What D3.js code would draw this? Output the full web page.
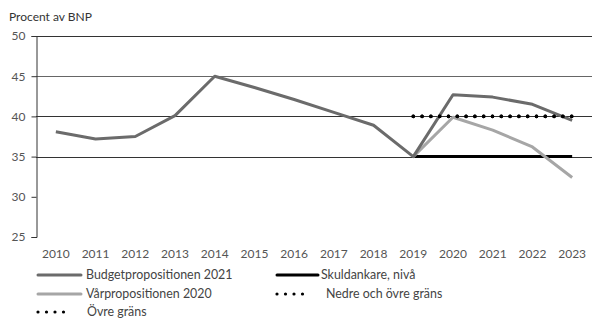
<!DOCTYPE html>
<html>
<head>
<meta charset="utf-8">
<script src="https://cdn.jsdelivr.net/npm/d3@7"></script>
<style>
  body { margin:0; background:#fff; }
  svg { display:block; font-family: Lato, "Open Sans", sans-serif; }
</style>
</head>
<body>
<div id="chart"></div>
<script>
// Data (percent of GDP)
const years = [2010,2011,2012,2013,2014,2015,2016,2017,2018,2019,2020,2021,2022,2023];
const budget2021 = [38.1,37.2,37.5,40.1,45.0,43.6,42.1,40.5,38.9,35.0,42.7,42.4,41.5,39.5];
const varprop2020Years = [2019,2020,2021,2022,2023];
const varprop2020 = [35.0,39.9,38.3,36.2,32.4];
const ankarYears = [2019,2020,2021,2022,2023];
const ankarNiva = [35,35,35,35,35];
const nedreOvre = [40,40,40,40,40];
const ovreGrans = [40,40,40,40,40];
const yTicks = [25,30,35,40,45,50];
const gridValues = [35,40,45,50];

(function() {
  const W = 592, H = 319;
  const m = {l:36, r:0, t:36, b:82};
  const svg = d3.select('#chart').append('svg').attr('width',W).attr('height',H);

  const x = d3.scaleBand().domain(years).range([m.l, W - m.r]);
  const xc = d => x(d) + x.bandwidth()/2;
  const y = d3.scaleLinear().domain([25,50]).range([H - m.b, m.t]);

  // Title
  svg.append('text').attr('x',9).attr('y',21).style('font-size','12px').style('fill','#333').text('Procent av BNP');

  // Gridlines
  svg.append('g').selectAll('line').data(gridValues).join('line')
    .attr('x1',m.l).attr('x2',W - m.r)
    .attr('y1',d=>Math.round(y(d))+0.5).attr('y2',d=>Math.round(y(d))+0.5)
    .attr('stroke',d=>d===45?'#666':'#333').attr('stroke-width',1);

  // Y axis
  const yAx = svg.append('g').attr('transform',`translate(${m.l + 0.5},0)`)
    .call(d3.axisLeft(y).tickValues(yTicks).tickSize(5).tickPadding(6));
  yAx.select('.domain').attr('stroke','#333');
  yAx.selectAll('.tick line').attr('stroke','#333');
  yAx.selectAll('text').style('font-size','12px').style('fill','#555').style('font-family','Lato, "Open Sans", sans-serif');

  // X labels
  const xAx = svg.append('g').attr('transform',`translate(0,${H - m.b})`)
    .call(d3.axisBottom(x).tickSize(0).tickPadding(12));
  xAx.select('.domain').remove();
  xAx.selectAll('text').style('font-size','12px').style('fill','#555').style('font-family','Lato, "Open Sans", sans-serif');

  const line = d3.line().x(d=>xc(d[0])).y(d=>y(d[1]));

  // Skuldankare
  svg.append('path').attr('d', line(d3.zip(ankarYears, ankarNiva)))
    .attr('fill','none').attr('stroke','#000').attr('stroke-width',3);

  // Vårpropositionen 2020
  svg.append('path').attr('d', line(d3.zip(varprop2020Years, varprop2020)))
    .attr('fill','none').attr('stroke','#a6a6a6').attr('stroke-width',3).attr('stroke-linejoin','round');

  // Budgetpropositionen 2021
  svg.append('path').attr('d', line(d3.zip(years, budget2021)))
    .attr('fill','none').attr('stroke','#6b6b6b').attr('stroke-width',3).attr('stroke-linejoin','round');

  // Gränser (dotted)
  [nedreOvre, ovreGrans].forEach(vals => {
    svg.append('path').attr('d', line(d3.zip(ankarYears, vals)))
      .attr('fill','none').attr('stroke','#000').attr('stroke-width',3.6)
      .attr('stroke-linecap','round').attr('stroke-dasharray','0 8.8');
  });

  // Legend
  const leg = [
    {x:38, y:275, len:43, tx:86, label:'Budgetpropositionen 2021', color:'#6b6b6b', dot:false},
    {x:277, y:275, len:41, tx:321, label:'Skuldankare, nivå', color:'#000', dot:false},
    {x:38, y:294, len:43, tx:86, label:'Vårpropositionen 2020', color:'#a6a6a6', dot:false},
    {x:277, y:294, len:34, tx:326, label:'Nedre och övre gräns', color:'#000', dot:true},
    {x:38, y:312, len:34, tx:87, label:'Övre gräns', color:'#000', dot:true}
  ];
  leg.forEach(d => {
    const g = svg.append('g');
    const l = g.append('line').attr('x1',d.x).attr('x2',d.x+d.len).attr('y1',d.y).attr('y2',d.y)
      .attr('stroke',d.color);
    if (d.dot) l.attr('stroke-width',3.2).attr('stroke-linecap','round').attr('stroke-dasharray','0 8.5');
    else l.attr('stroke-width',3).attr('stroke-linecap','round');
    g.append('text').attr('x',d.tx).attr('y',d.y).attr('dy','0.35em')
      .style('font-size','12.4px').style('fill','#444').text(d.label);
  });
})();
</script>
</body>
</html>
